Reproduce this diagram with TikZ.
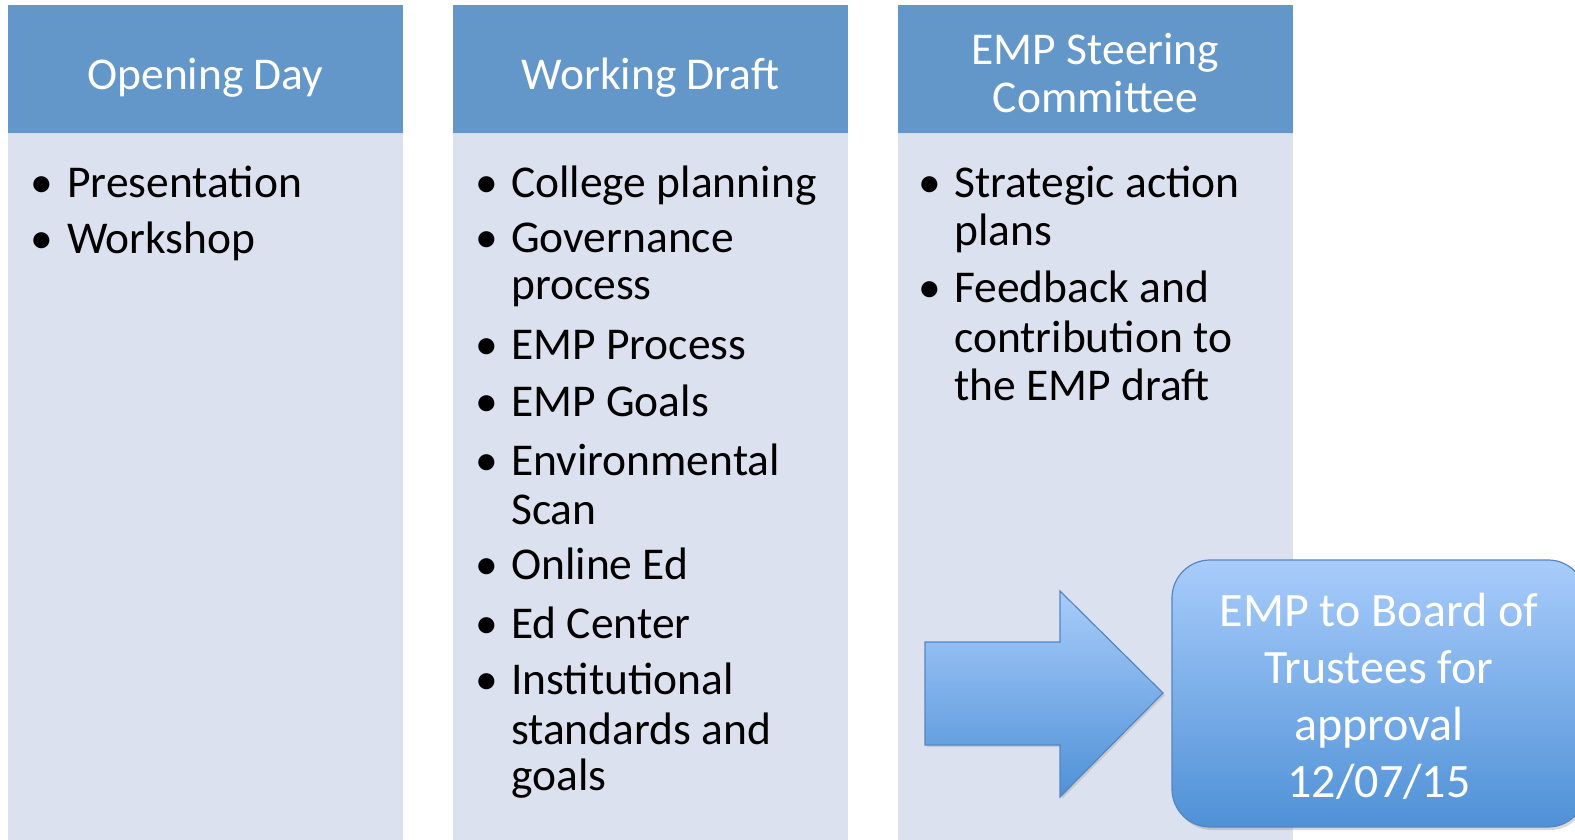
\documentclass[tikz,border=0pt]{standalone}
\usepackage{fontspec}
\setmainfont{Carlito}
\usetikzlibrary{shadows}
\definecolor{hdr}{RGB}{99,150,201}
\definecolor{bodyc}{RGB}{219,225,238}
\definecolor{artop}{RGB}{168,204,251}
\definecolor{arbot}{RGB}{79,145,214}
\definecolor{arline}{RGB}{84,134,194}
\begin{document}
\begin{tikzpicture}[x=1pt,y=-1pt,
  hdrtext/.style={text=white, font=\fontsize{45.5}{54}\selectfont, inner sep=0pt, anchor=base},
  itemtext/.style={font=\fontsize{45.5}{54}\selectfont, inner sep=0pt, anchor=base west},
  bul/.style={font=\fontsize{45.5}{54}\selectfont, inner sep=0pt, anchor=base},
  boardtext/.style={text=white, font=\fontsize{48}{57}\selectfont, inner sep=0pt, anchor=base},
  bluegrad/.style={draw=arline, line width=1.2pt, top color=artop, bottom color=arbot},
]
\useasboundingbox (0,0) rectangle (1575,840);
\clip (0,0) rectangle (1575,840);
\fill[white] (0,0) rectangle (1575,840);

% panels
\foreach \x in {8,453,898}{
  \fill[bodyc] (\x,134) rectangle ++(395,706);
  \fill[hdr] (\x,5) rectangle ++(395,129);
  \draw[white!70!hdr, line width=1pt] (\x,134) -- ++(395,0);
}

% headers
\node[hdrtext] (h1) at (205.5,90) {Opening Day};
\node[hdrtext] (h2) at (650.5,90) {Working Draft};
\node[hdrtext] (h3a) at (1095.5,65) {EMP Steering};
\node[hdrtext] (h3b) at (1095.5,113) {Committee};

% panel 1 items
\node[bul] (b11) at (42,197) {•};
\node[itemtext] (t11) at (67,197) {Presentation};
\node[bul] (b12) at (42,253) {•};
\node[itemtext] (t12) at (67,253) {Workshop};

% panel 2 items
\node[bul] (b21) at (487,197) {•};
\node[itemtext] (t21) at (511,197) {College planning};
\node[bul] (b22) at (487,252) {•};
\node[itemtext] (t22) at (511,252) {Governance};
\node[itemtext] (t22b) at (511,299) {process};
\node[bul] (b23) at (487,359) {•};
\node[itemtext] (t23) at (511,359) {EMP Process};
\node[bul] (b24) at (487,416) {•};
\node[itemtext] (t24) at (511,416) {EMP Goals};
\node[bul] (b25) at (487,475) {•};
\node[itemtext] (t25) at (511,475) {Environmental};
\node[itemtext] (t25b) at (511,524) {Scan};
\node[bul] (b26) at (487,579) {•};
\node[itemtext] (t26) at (511,579) {Online Ed};
\node[bul] (b27) at (487,638) {•};
\node[itemtext] (t27) at (511,638) {Ed Center};
\node[bul] (b28) at (487,694) {•};
\node[itemtext] (t28) at (511,694) {Institutional};
\node[itemtext] (t28b) at (511,744) {standards and};
\node[itemtext] (t28c) at (511,790) {goals};

% panel 3 items
\node[bul] (b31) at (930,197) {•};
\node[itemtext] (t31) at (954,197) {Strategic action};
\node[itemtext] (t31b) at (954,245) {plans};
\node[bul] (b32) at (930,302) {•};
\node[itemtext] (t32) at (954,302) {Feedback and};
\node[itemtext] (t32b) at (954,352) {contribution to};
\node[itemtext] (t32c) at (954,400) {the EMP draft};

% block arrow
\path[bluegrad, drop shadow={shadow xshift=2pt, shadow yshift=-2pt, opacity=0.25}]
  (925,642) -- (1060,642) -- (1060,591) -- (1163,693) -- (1060,797) -- (1060,745) -- (925,745) -- cycle;

% board box
\node[bluegrad, rounded corners=38pt, minimum width=414pt, minimum height=267pt, inner sep=0pt,
  drop shadow={shadow xshift=2pt, shadow yshift=-3pt, opacity=0.3}] (board) at (1379,693.5) {};
\node[boardtext] (bt1) at (1379,626) {EMP to Board of};
\node[boardtext] (bt2) at (1379,683) {Trustees for};
\node[boardtext] (bt3) at (1379,740) {approval};
\node[boardtext] (bt4) at (1379,797) {12/07/15};
\end{tikzpicture}
\end{document}
